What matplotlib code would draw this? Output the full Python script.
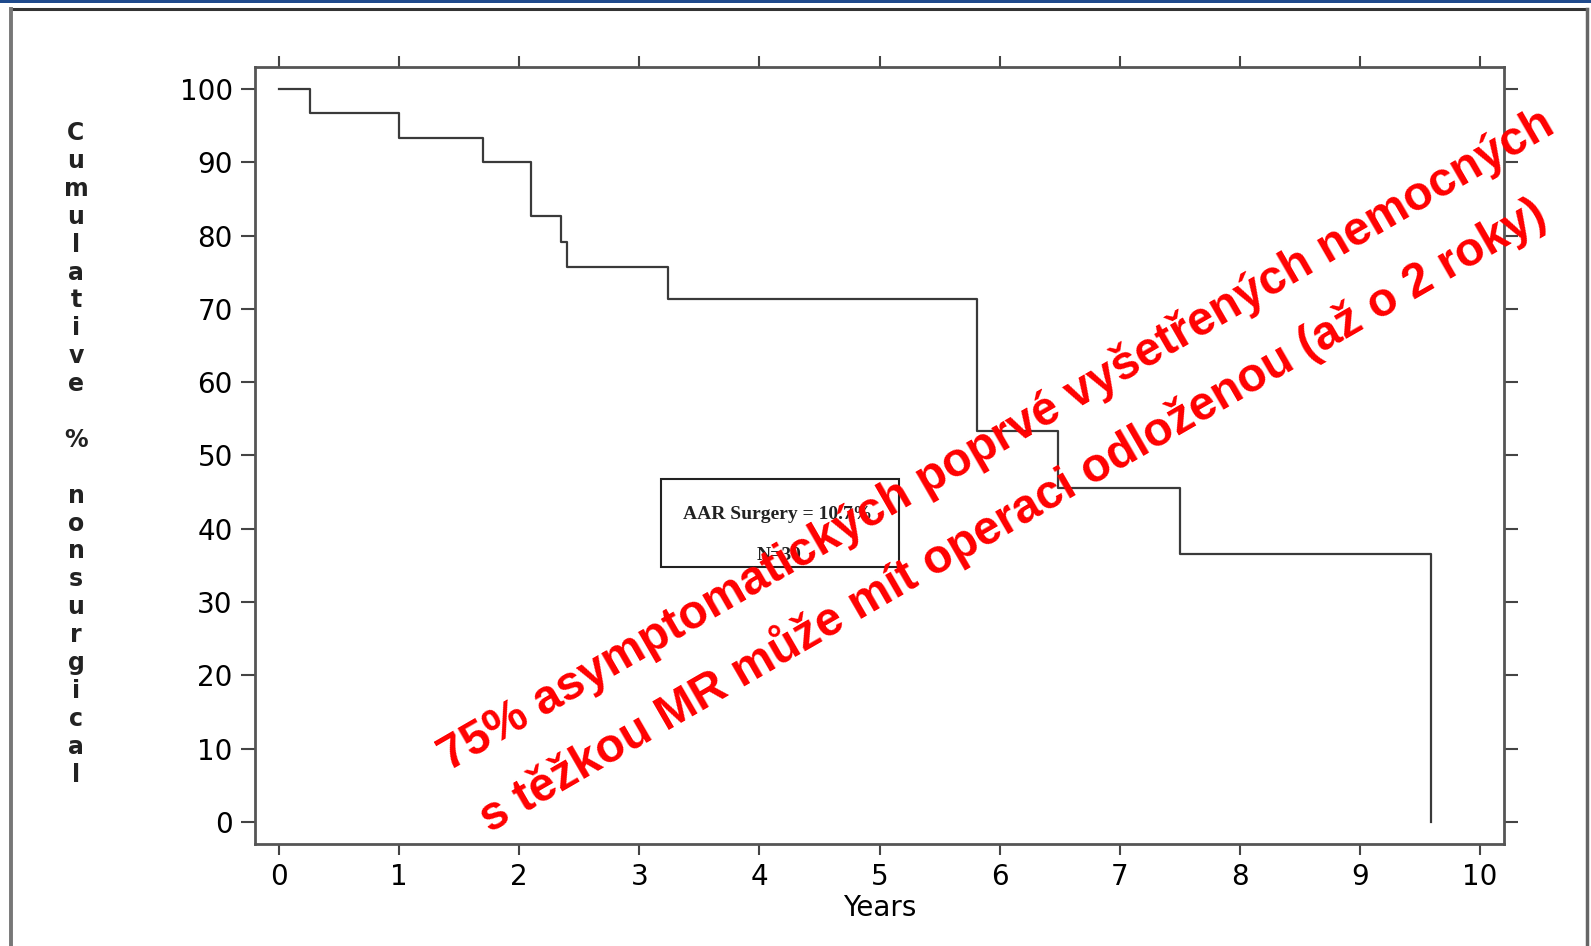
import matplotlib
matplotlib.use('Agg')
import matplotlib.pyplot as plt
from matplotlib.patches import Rectangle
from matplotlib.lines import Line2D

# Kaplan-Meier style curve
years = [0, 0.26, 1.0, 1.70, 2.10, 2.35, 2.40, 3.24, 5.81, 6.49, 7.50, 9.59]
pct_nonsurgical = [100, 96.7, 93.3, 90.0, 82.7, 79.1, 75.7, 71.4, 53.4, 45.6, 36.5, 0]
x_ticks = [0, 1, 2, 3, 4, 5, 6, 7, 8, 9, 10]
y_ticks = [0, 10, 20, 30, 40, 50, 60, 70, 80, 90, 100]
ylabel_text = 'Cumulative % nonsurgical'
legend_lines = ['AAR Surgery = 10.7%', 'N=30']
note_lines = ['75% asymptomatických poprvé vyšetřených nemocných',
              's těžkou MR může mít operaci odloženou (až o 2 roky)']

W, H = 1591, 946
fig = plt.figure(figsize=(W / 100, H / 100), dpi=100)
fig.patch.set_facecolor('white')

def fx(px):
    return px / W

def fy(py):
    return 1 - py / H

# slide decoration: blue bar and picture frame
fig.add_artist(Rectangle((0, fy(3)), 1, 3 / H, transform=fig.transFigure,
                         facecolor='#1f4a8c', edgecolor='none'))
fig.add_artist(Line2D([fx(11), fx(1587)], [fy(9), fy(9)], transform=fig.transFigure,
                      color='#333333', lw=2.2))
fig.add_artist(Line2D([fx(11), fx(11)], [fy(9), 0], transform=fig.transFigure,
                      color='#777777', lw=2.8))
fig.add_artist(Line2D([fx(1587), fx(1587)], [fy(9), 0], transform=fig.transFigure,
                      color='#666666', lw=2.5))

ax = fig.add_axes([fx(255), fy(844), fx(1504) - fx(255), fy(67) - fy(844)])
ax.step(years, pct_nonsurgical, where='post', color='#3a3a3a', lw=1.6)
ax.set_xlim(-0.2, 10.2)
ax.set_ylim(-3, 103)
ax.set_xticks(x_ticks)
ax.set_yticks(y_ticks)
ax.tick_params(direction='out', length=10, width=1.5, color='#444444',
               labelsize=20, top=True, right=True, pad=6)
ax.tick_params(axis='x', length=8)
for s in ax.spines.values():
    s.set_color('#555555')
    s.set_linewidth(2)
ax.set_xlabel('Years', fontsize=20, labelpad=2)

# stacked y label, one character per line
chars = list(ylabel_text)
for i, ch in enumerate(chars):
    fig.text(fx(76), fy(133 + i * 27.9), ch, ha='center', va='center',
             fontsize=17, fontweight='bold', color='#222222')

# legend-like box
fig.add_artist(Rectangle((fx(661), fy(567)), fx(899) - fx(661), fy(479) - fy(567),
                         transform=fig.transFigure, facecolor='white',
                         edgecolor='#222222', lw=1.5))
fig.text(fx(778), fy(514), legend_lines[0], ha='center', va='center',
         fontsize=14, fontweight='bold', family='Liberation Serif', color='#222222')
fig.text(fx(779), fy(555), legend_lines[1], ha='center', va='center',
         fontsize=14, fontweight='bold', family='Liberation Serif', color='#222222')

# red rotated note
fig.text(fx(449), fy(771), note_lines[0], rotation=30, rotation_mode='anchor',
         ha='left', va='baseline', color='#ff0000', fontsize=34.3,
         fontweight='bold', family='Liberation Sans')
fig.text(fx(490), fy(833), note_lines[1], rotation=30, rotation_mode='anchor',
         ha='left', va='baseline', color='#ff0000', fontsize=34.3,
         fontweight='bold', family='Liberation Sans')

fig.savefig('out.png', dpi=100)
